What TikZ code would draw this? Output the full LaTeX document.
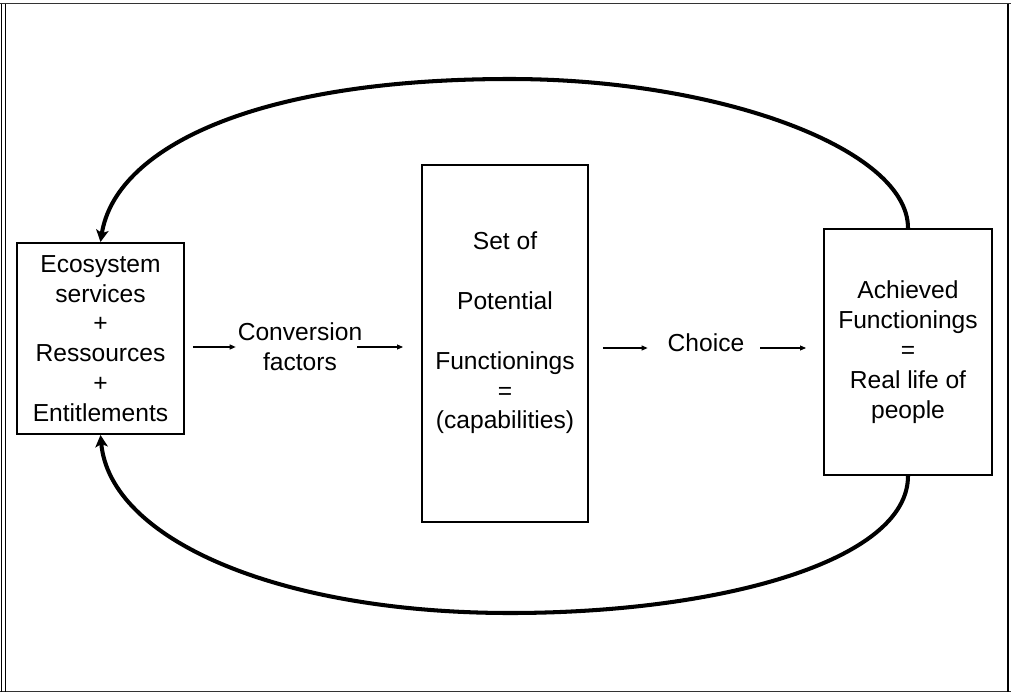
\documentclass[tikz,border=0pt]{standalone}
\usepackage{fontspec}
\setmainfont{Liberation Sans}
\usetikzlibrary{arrows.meta,positioning,calc}

\begin{document}
\begin{tikzpicture}[
    x=0.02cm, y=-0.02cm,
    box/.style={rectangle, draw=black, line width=1.15pt, inner sep=0pt},
    lbl/.style={align=center, inner sep=1pt, font=\fontsize{14}{17}\selectfont},
    flow/.style={-{Triangle[length=0.12cm,width=0.1cm]}, line width=0.6pt},
    loop/.style={-{Stealth[length=0.24cm,width=0.25cm,inset=0.06cm]}, line width=2.3pt},
    frame/.style={line width=0.03cm, black!80}
]
    \useasboundingbox (0,0) rectangle (1011,693);

    % Frame
    \draw[frame] (0,3.5) -- (1011,3.5);
    \draw[frame] (0,691.5) -- (1011,691.5);
    \draw[frame, black] (1.5,3.5) -- (1.5,691.5);
    \draw[frame, black] (5.5,3.5) -- (5.5,691.5);
    \draw[frame, black] (1008,3.5) -- (1008,691.5);

    % Boxes
    \node[box, lbl, minimum width=3.34cm, minimum height=3.82cm] (eco) at (100.5,338.5)
        {Ecosystem\\services\\+\\Ressources\\+\\Entitlements};
    \node[box, minimum width=3.32cm, minimum height=7.14cm] (set) at (505,343.5) {};
    \node[lbl] (settxt) at (505,333)
        {Set of\\[17pt]Potential\\[17pt]Functionings\\=\\(capabilities)};
    \node[box, lbl, minimum width=3.36cm, minimum height=4.92cm] (ach) at (908,352)
        {Achieved\\Functionings\\=\\Real life of\\people};

    % Labels between boxes
    \node[lbl] (conv) at (300,347) {Conversion\\factors};
    \node[lbl] (choice) at (706,343) {Choice};

    % Forward arrows
    \draw[flow] ([xshift=0.16cm]eco.east |- conv.west) -- (conv.west);
    \draw[flow] ([xshift=-0.14cm]conv.east) -- ([xshift=-0.36cm]set.west |- conv.east);
    \draw[flow] ([xshift=0.28cm, yshift=-0.1cm]set.east |- choice.west) -- ([xshift=-0.36cm, yshift=-0.1cm]choice.west);
    \draw[flow] ([xshift=0.28cm, yshift=-0.1cm]choice.east) -- ([xshift=-0.34cm, yshift=-0.1cm]ach.west |- choice.east);

    % Feedback loops
    \draw[loop] (ach.north) .. controls +(0,-79) and (720,79) .. (510,79)
        .. controls (250,79) and (115,150) .. (eco.north);
    \draw[loop] (ach.south) .. controls +(0,85) and (720,613) .. (510,613)
        .. controls (280,613) and (110,540) .. (eco.south);
\end{tikzpicture}
\end{document}
